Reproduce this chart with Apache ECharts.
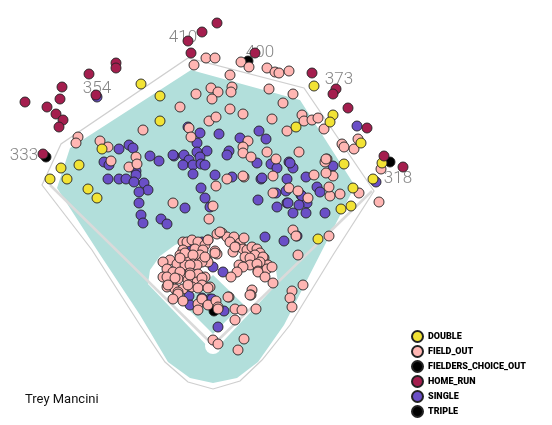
<!DOCTYPE html>
<html>
<head>
<meta charset="utf-8">
<script src="https://cdn.jsdelivr.net/npm/echarts@6/dist/echarts.min.js"></script>
<style>
  html, body { margin: 0; padding: 0; background: #fff; }
  #chart { width: 552px; height: 425px; }
</style>
</head>
<body>
<div id="chart"></div>
<script>
// field geometry (same plot units as the hits, home plate near 213,345)
var outerWall = [[42,185],[61,144],[188,58],[304,88],[374,191],[333,255],[290,325],[262,360],[240,381],[213,389],[188,382],[165,362],[140,325],[92,250]];
var grass = [[57,188],[70,148],[191,70],[300,100],[355,186],[307,280],[284,325],[258,362],[237,378],[213,383],[190,378],[168,362],[140,315],[97,250]];
var infieldDirt = [[213,352],[148,284],[150,270],[160,256],[175,245],[193,238],[213,236],[233,238],[251,245],[266,256],[276,270],[278,283]];
var infieldGrass = [[213,334],[243,304],[213,275],[183,304]];
var foulLeft = [[213,345],[50,185]];
var foulRight = [[213,345],[372,191]];
var homePlate = [213,346];

var wallDistances = [410, 400, 373, 354, 333, 318];
var wallLabelSpots = [[183,38],[260,53],[339,80],[97,89],[24,156],[398,179]];

var playerName = 'Trey Mancini';

var doubles = [[141,84],[160,96],[160,121],[102,149],[61,168],[79,165],[50,179],[67,179],[88,189],[97,198],
  [314,86],[296,127],[333,115],[330,122],[361,143],[344,164],[382,163],[373,179],[353,188],[351,206],[341,209],[318,239]];

var homeRuns = [[217,23],[202,32],[188,41],[191,53],[116,63],[116,68],[89,74],[62,87],[60,99],[96,95],[25,102],
  [47,107],[56,114],[63,120],[59,127],[43,154],[255,53],[312,73],[336,89],[333,94],[348,108],[367,128],[384,156],[403,167]];

var triples = [[248,61],[390,162],[46,157]];
var fieldersChoice = [[214,311]];

var singles = [[97,97],[188,127],[200,133],[197,143],[207,151],[197,152],[119,149],[129,145],[133,148],[104,162],[109,165],
  [150,156],[159,161],[174,156],[184,155],[189,160],[183,165],[193,165],[200,157],[201,164],[205,165],[136,171],[136,175],
  [108,179],[119,179],[126,179],[134,182],[144,183],[148,190],[139,192],[193,174],[201,188],[205,198],[139,203],[141,215],
  [143,223],[161,219],[167,224],[185,208],[210,207],[219,134],[229,151],[227,155],[240,138],[259,131],[266,139],[257,163],
  [261,179],[271,164],[173,155],[215,175],[258,200],[232,177],[277,168],[289,162],[293,168],[287,179],[306,177],[262,178],
  [333,166],[317,187],[320,192],[301,195],[276,193],[286,191],[277,207],[287,203],[293,213],[302,196],[307,203],[306,213],
  [325,213],[299,205],[288,203],[265,237],[284,241],[297,236],[357,126],[376,182],[290,163],[203,243],[190,248],[202,242],
  [213,267],[223,272],[189,296],[190,305],[210,299],[202,298],[224,311],[218,327],[212,299]];

var fieldOuts = [[194,65],[206,58],[215,58],[241,62],[249,67],[267,68],[275,72],[279,73],[289,71],[230,75],[211,88],
  [218,92],[232,87],[231,92],[196,94],[212,99],[269,89],[293,94],[283,103],[180,107],[230,109],[243,114],[272,119],
  [209,121],[216,117],[189,128],[191,137],[143,130],[78,137],[76,143],[100,141],[108,147],[136,157],[129,167],[137,164],
  [111,161],[248,141],[243,147],[243,153],[251,157],[267,152],[244,177],[227,179],[216,186],[273,193],[173,203],[213,206],
  [209,219],[302,115],[304,121],[312,120],[318,118],[287,131],[324,129],[299,152],[276,159],[314,175],[327,159],[325,162],
  [333,176],[342,144],[344,147],[354,149],[358,139],[243,176],[273,176],[289,188],[330,196],[340,194],[359,193],[379,202],
  [381,169],[326,159],[326,173],[298,191],[308,198],[329,187],[293,230],[296,236],[329,236],[298,255],[303,285],[292,291],
  [290,298],[292,307],
  // infield, right side of second base
  [217,234],[222,233],[208,240],[227,237],[234,237],[230,242],[240,243],[244,238],[236,247],[233,252],[243,249],[247,250],
  [252,247],[257,249],[260,253],[264,258],[255,255],[245,257],[250,258],[263,257],[268,265],[260,262],[250,265],[257,264],
  [239,265],[243,267],[237,272],[258,271],[267,269],[272,267],[258,272],[265,277],[273,283],[231,277],[217,254],[215,251],
  [203,255],[207,260],[202,278],[210,287],[252,290],[251,295],[229,297],[220,232],[235,247],[215,253],[208,262],
  // infield, left side
  [183,242],[187,242],[192,240],[198,242],[205,245],[208,240],[183,250],[195,249],[203,250],[180,255],[187,259],[195,257],
  [200,255],[185,253],[193,255],[170,260],[177,264],[185,265],[193,264],[202,262],[163,262],[180,258],[197,265],[205,257],
  [190,265],[167,269],[173,272],[182,274],[190,273],[198,274],[180,272],[163,277],[170,280],[178,279],[188,280],[197,282],
  [205,277],[167,277],[175,278],[190,275],[202,278],[167,287],[175,289],[183,289],[192,287],[202,285],[168,285],[178,292],
  [188,285],[198,288],[208,288],[178,294],[173,299],[183,301],[198,304],[198,310],[202,299],[208,305],[216,301],[218,307],
  [218,309],[228,297],[235,309],[242,310],[235,320],[256,309],[244,339],[238,350],[213,340],[218,344],[250,295]];

var resultNames = ['DOUBLE', 'FIELD_OUT', 'FIELDERS_CHOICE_OUT', 'HOME_RUN', 'SINGLE', 'TRIPLE'];

function shapeSeries(points, fill, stroke, lineWidth, closed) {
  return {
    type: 'custom',
    silent: true,
    data: [[0, 0]],
    z: 1,
    renderItem: function (params, api) {
      return {
        type: closed ? 'polygon' : 'polyline',
        shape: { points: points.map(function (p) { return api.coord(p) }) },
        style: { fill: closed ? fill : null, stroke: stroke, lineWidth: lineWidth }
      }
    }
  }
}

function hitSeries(name, data, color) {
  return {
    name: name,
    type: 'scatter',
    data: data,
    symbolSize: 10,
    z: 3,
    itemStyle: { color: color, borderColor: '#222', borderWidth: 0.9, opacity: 1 }
  }
}

var plateSeries = {
  type: 'custom',
  silent: true,
  data: [homePlate],
  z: 1,
  renderItem: function (params, api) {
    var c = api.coord([api.value(0), api.value(1)])
    return { type: 'circle', shape: { cx: c[0], cy: c[1], r: api.size([8, 8])[0] }, style: { fill: '#fff' } }
  }
}

var labelSeries = {
  type: 'scatter',
  silent: true,
  symbolSize: 0,
  z: 2,
  data: wallDistances.map(function (d, i) { return [wallLabelSpots[i][0], wallLabelSpots[i][1], d] }),
  label: {
    show: true,
    position: 'inside',
    formatter: function (p) { return String(p.value[2]) },
    fontFamily: 'Roboto',
    fontWeight: 300,
    fontSize: 17,
    color: '#666'
  }
}

var chart = echarts.init(document.getElementById('chart'))
chart.setOption({
  animation: false,
  backgroundColor: '#fff',
  grid: { left: 0, right: 0, top: 0, bottom: 0 },
  xAxis: { type: 'value', min: 0, max: 552, show: false },
  yAxis: { type: 'value', min: 0, max: 425, inverse: true, show: false },
  legend: {
    data: resultNames,
    orient: 'vertical',
    left: 411,
    top: 330,
    height: 110,
    padding: 0,
    itemWidth: 11,
    itemHeight: 11,
    itemGap: 2,
    icon: 'circle',
    textStyle: { fontFamily: 'Roboto', fontWeight: 900, fontSize: 9, lineHeight: 11, color: '#000' }
  },
  graphic: [{
    type: 'text',
    left: 25,
    top: 393,
    style: { text: playerName, fontFamily: 'Roboto', fontSize: 13, fill: '#111' }
  }],
  series: [
    shapeSeries(outerWall, '#fff', '#cfcfcf', 1.2, true),
    shapeSeries(grass, '#b2dfdb', null, 0, true),
    shapeSeries(infieldDirt, '#fff', null, 0, true),
    shapeSeries(infieldGrass, '#b2dfdb', null, 0, true),
    shapeSeries(foulLeft, null, '#dadada', 2.5, false),
    shapeSeries(foulRight, null, '#dadada', 2.5, false),
    plateSeries,
    labelSeries,
    hitSeries('SINGLE', singles, '#6a4fc7'),
    hitSeries('FIELDERS_CHOICE_OUT', fieldersChoice, '#000'),
    hitSeries('TRIPLE', triples, '#000'),
    hitSeries('FIELD_OUT', fieldOuts, '#ffb6b3'),
    hitSeries('DOUBLE', doubles, '#f2e335'),
    hitSeries('HOME_RUN', homeRuns, '#a41e4e')
  ]
})
</script>
</body>
</html>
